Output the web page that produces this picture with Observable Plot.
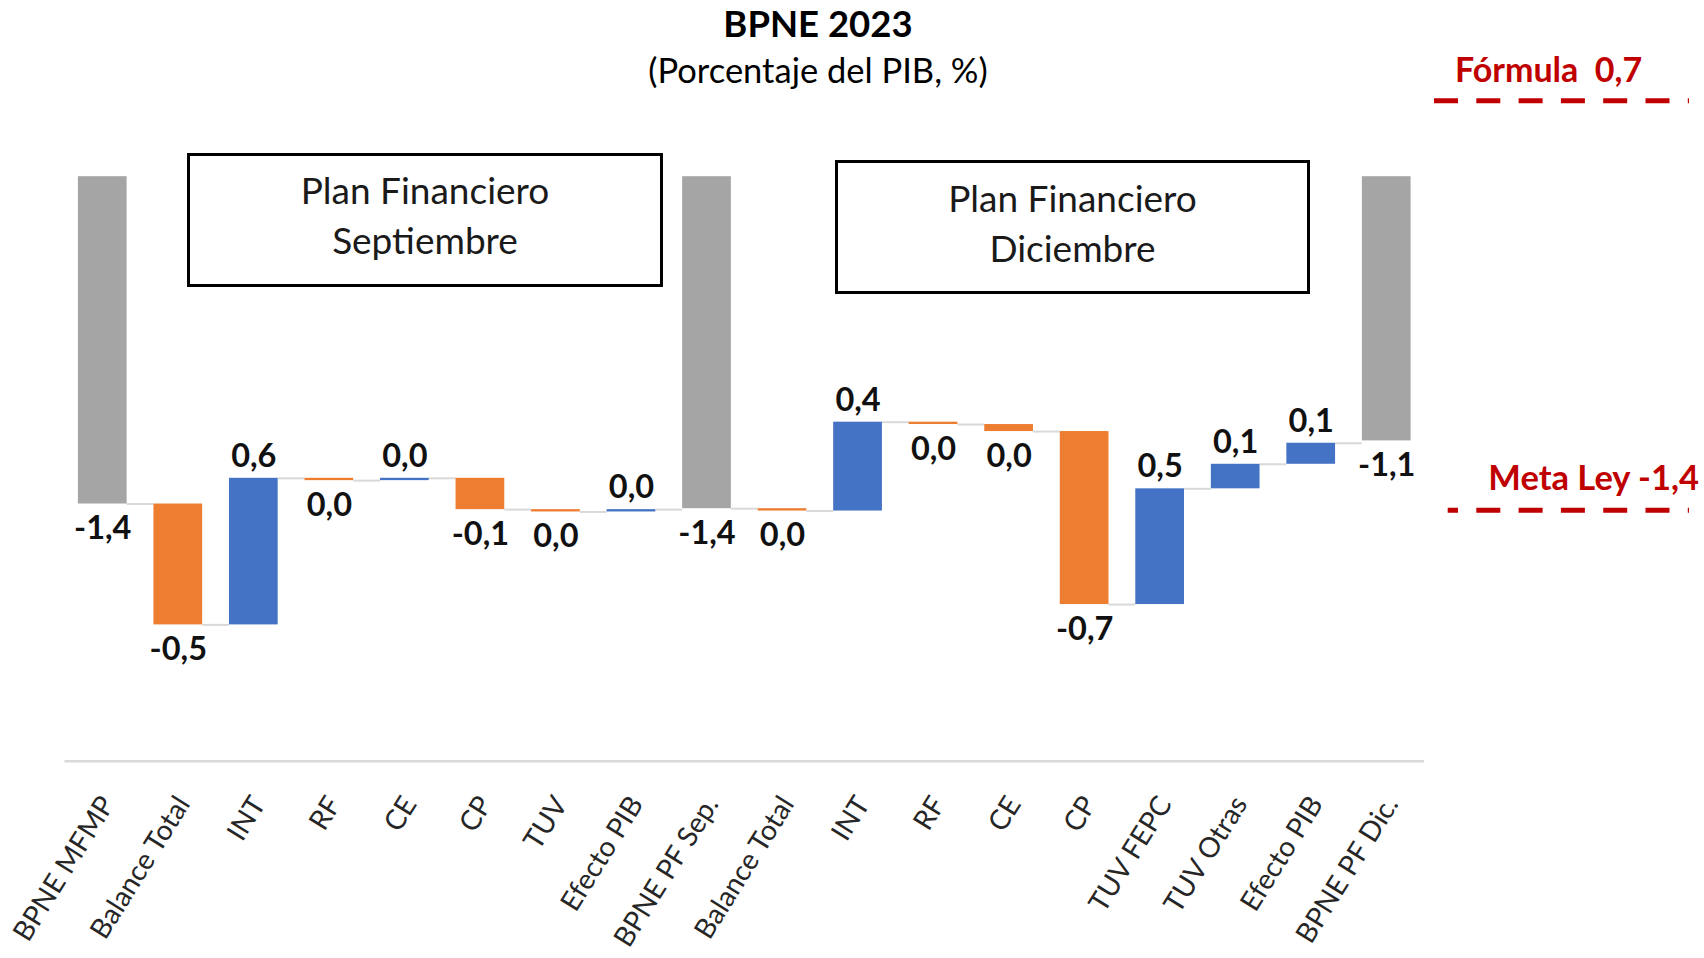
<!DOCTYPE html>
<html>
<head>
<meta charset="utf-8">
<script src="https://cdn.jsdelivr.net/npm/d3@7"></script>
<script src="https://cdn.jsdelivr.net/npm/@observablehq/plot@0.6"></script>
<style>
  html, body { margin: 0; padding: 0; background: #fff; }
  #wrap { position: relative; width: 1704px; height: 958px; overflow: hidden; font-family: Lato, "Open Sans", sans-serif; color: #000; }
  #header { position: relative; width: 1704px; height: 100px; }
  .ttl { position: absolute; left: 0; width: 1636px; text-align: center; white-space: nowrap; line-height: 1.2; }
  #title { top: 1.5px; font-size: 36.5px; font-weight: 700; }
  #subtitle { top: 49px; font-size: 34.5px; font-weight: 400; }
  .box { position: absolute; box-sizing: border-box; border: 3px solid #000; background: transparent; }
  .box .txt { position: absolute; left: 0; right: 0; text-align: center; font-size: 37px; line-height: 50px; color: #1a1a1a; }
  #overlay { position: absolute; left: 0; top: 0; pointer-events: none; }
</style>
</head>
<body>
<div id="wrap">
  <div id="header">
    <div id="title" class="ttl"></div>
    <div id="subtitle" class="ttl"></div>
  </div>
  <div id="chart"></div>
</div>
<script>
// ---- data ----
const titleText = "BPNE 2023";
const subtitleText = "(Porcentaje del PIB, %)";
const categories = ["BPNE MFMP", "Balance Total", "INT", "RF", "CE", "CP", "TUV", "Efecto PIB", "BPNE PF Sep.",
                    "Balance Total", "INT", "RF", "CE", "CP", "TUV FEPC", "TUV Otras", "Efecto PIB", "BPNE PF Dic."];
const values = [-1.40, -0.517, 0.627, -0.01, 0.01, -0.134, -0.01, 0.01, -1.42,
                -0.01, 0.38, -0.01, -0.03, -0.74, 0.495, 0.105, 0.09, -1.13];
const isTotal = [true, false, false, false, false, false, false, false, true,
                 false, false, false, false, false, false, false, false, true];
const boxTexts = [["Plan Financiero", "Septiembre"], ["Plan Financiero", "Diciembre"]];
const formulaLabel = "Fórmula";
const formulaValue = 0.7;
const metaLabel = "Meta Ley";
const metaValue = -1.4;

// ---- helpers ----
const fmt = v => { let r = Math.round(v * 10) / 10; return (r === 0 ? 0 : r).toFixed(1).replace(".", ","); };

let run = 0;
const data = categories.map((c, i) => {
  let start, end, type;
  if (isTotal[i]) { start = 0; end = values[i]; type = "total"; }
  else { start = run; end = run + values[i]; type = values[i] >= 0 ? "increase" : "decrease"; }
  run = end;
  return {i, c, start, end, type, label: fmt(values[i])};
});
const connectors = data.slice(0, -1).map(d => ({i: d.i, next: d.i + 1, y: d.end}));

document.getElementById("title").textContent = titleText;
document.getElementById("subtitle").textContent = subtitleText;

// ---- chart ----
const W = 1704, H = 858, mL = 64.5, mR = 280, mT = 76.2, mB = 197.3;
const pIn = 0.355, pOut = 0.1775;
const n = categories.length;
const step = (W - mL - mR) / n;
const bw = step * (1 - pIn);

const chart = Plot.plot({
  width: W, height: H,
  marginLeft: mL, marginRight: mR, marginTop: mT, marginBottom: mB,
  x: {type: "band", domain: d3.range(n), paddingInner: pIn, paddingOuter: pOut, round: false, axis: null},
  y: {domain: [-2.5, 0], axis: null},
  color: {domain: ["total", "increase", "decrease"], range: ["#A5A5A5", "#4472C4", "#ED7D31"]},
  style: {fontFamily: "Lato, 'Open Sans', sans-serif", background: "white", overflow: "visible"},
  marks: [
    Plot.ruleY(connectors, {x1: "i", x2: "next", y: "y", stroke: "#d9d9d9", strokeWidth: 2, insetLeft: bw, insetRight: bw}),
    Plot.barY(data, {x: "i", y1: "start", y2: "end", fill: "type"}),
    Plot.ruleY([-2.5], {stroke: "#d9d9d9", strokeWidth: 2.5}),
    Plot.text(data.filter(d => d.type === "increase"), {x: "i", y: "end", text: "label", dy: -22, fontWeight: "bold", fontSize: 32.5, fill: "#111"}),
    Plot.text(data.filter(d => d.type !== "increase"), {x: "i", y: "end", text: "label", dy: 25, fontWeight: "bold", fontSize: 32.5, fill: "#111"}),
    Plot.text(data, {x: "i", text: "c", frameAnchor: "bottom", rotate: -58, textAnchor: "end", lineAnchor: "middle", dx: 5, dy: 38, fontSize: 28, fill: "#262626"})
  ]
});
document.getElementById("chart").appendChild(chart);

// ---- annotation boxes ----
const wrap = document.getElementById("wrap");
const boxGeom = [
  {left: 187, top: 153, width: 476, height: 134, textTop: 9},
  {left: 835, top: 160, width: 475, height: 134, textTop: 10}
];
boxTexts.forEach((lines, k) => {
  const g = boxGeom[k];
  const b = document.createElement("div");
  b.className = "box";
  Object.assign(b.style, {left: g.left + "px", top: g.top + "px", width: g.width + "px", height: g.height + "px"});
  const t = document.createElement("div");
  t.className = "txt";
  t.style.top = g.textTop + "px";
  t.innerHTML = lines.map(s => `<div>${s}</div>`).join("");
  b.appendChild(t);
  wrap.appendChild(b);
});

// ---- right-side red annotations ----
const svg = d3.select(wrap).append("svg").attr("id", "overlay").attr("width", 1704).attr("height", 958);
const red = "#C00000";
svg.append("text").attr("x", 1455).attr("y", 81.7).attr("fill", red)
  .attr("font-family", "Lato, sans-serif").attr("font-weight", 700).attr("font-size", 34)
  .attr("xml:space", "preserve").style("white-space", "pre")
  .text(`${formulaLabel}  ${fmt(formulaValue)}`);
svg.append("line").attr("x1", 1434).attr("x2", 1689).attr("y1", 100.7).attr("y2", 100.7)
  .attr("stroke", red).attr("stroke-width", 5).attr("stroke-dasharray", "24 18.3");
svg.append("text").attr("x", 1699).attr("y", 490).attr("fill", red).attr("text-anchor", "end")
  .attr("font-family", "Lato, sans-serif").attr("font-weight", 700).attr("font-size", 34.5)
  .text(`${metaLabel} ${fmt(metaValue)}`);
svg.append("line").attr("x1", 1447.7).attr("x2", 1689).attr("y1", 510.3).attr("y2", 510.3)
  .attr("stroke", red).attr("stroke-width", 5).attr("stroke-dasharray", "24 18.3").attr("stroke-dashoffset", 13.7);
</script>
</body>
</html>
